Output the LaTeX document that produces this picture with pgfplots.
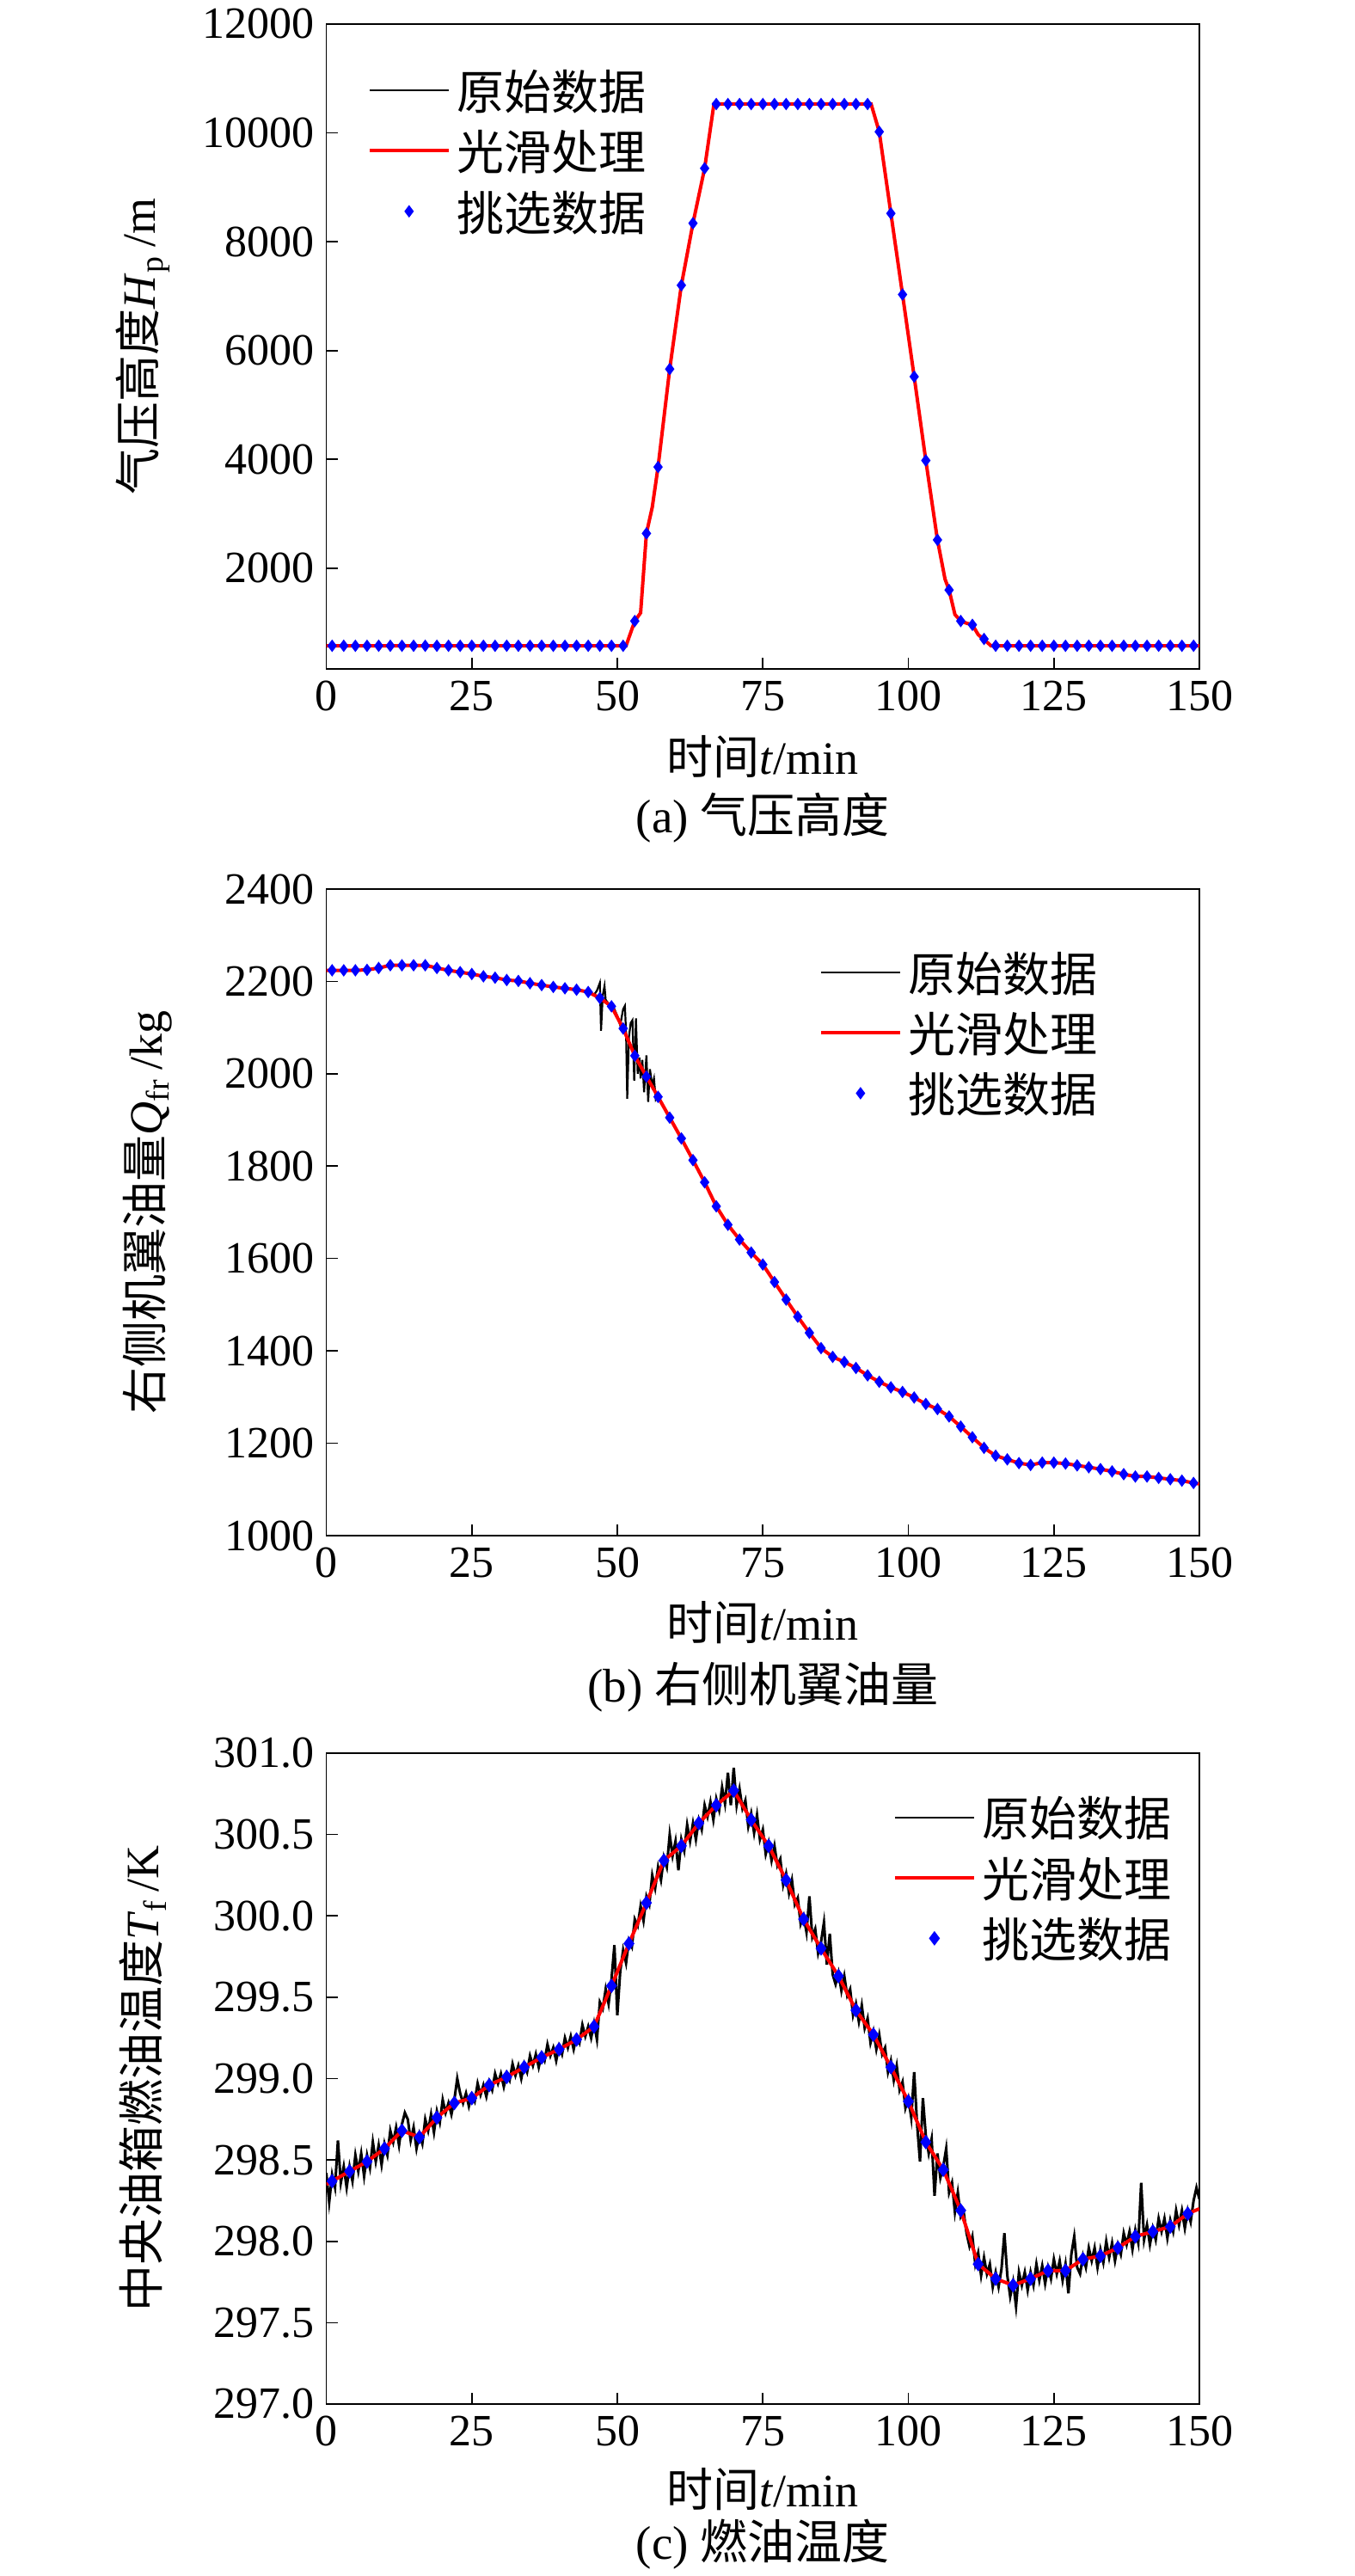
\documentclass[border=0pt]{standalone}
\usepackage{fontspec}
\setmainfont{Liberation Serif}
\newfontfamily\cjk{Noto Sans CJK SC}
\usepackage{pgfplots}
\pgfplotsset{compat=1.18}
\pgfplotsset{
  myaxis/.style={
    scale only axis, width=253.875pt,
    xmin=0, xmax=150, xtick={0,25,...,150},
    tick align=inside, tick pos=left,
    major tick length=3.25pt,
    scaled y ticks=false,
    axis line style={line width=0.45pt},
    every tick/.style={line width=0.4pt, black},
    tick label style={font=\fontsize{13}{13}\selectfont},
    /pgf/number format/assume math mode=true,
    /pgf/number format/1000 sep={},
    label style={font=\fontsize{13.5}{16}\selectfont},
    xlabel={{\cjk 时间}\textit{t}/min},
    xlabel style={at={(axis description cs:0.5,-0.136)}, anchor=center},
    ylabel style={anchor=center},
    legend cell align=left,
    legend style={draw=none, fill=none, inner sep=0pt, row sep=0pt,
      font=\fontsize{13.75}{17.6}\selectfont\cjk,
      /tikz/every odd column/.style={column sep=2pt},
      nodes={inner sep=0pt, text height=10.6pt, text depth=7pt}},
  },
  rawline/.style={black, line width=#1, no markers,
    legend image code/.code={\path (0pt,0pt) (23pt,0pt); \draw[##1, line width=0.5pt] (0pt,0.38em) -- (23pt,0.38em);}},
  rawline/.default=0.55pt,
  smoothline/.style={red, line width=1pt, no markers,
    legend image code/.code={\path (0pt,0pt) (23pt,0pt); \draw[##1] (0pt,0.38em) -- (23pt,0.38em);}},
  picked/.style={only marks, mark=diamond*, mark options={fill=blue, draw=blue}, mark size=#1,
    legend image code/.code={\path (0pt,0pt) (23pt,0pt); \draw[##1] plot coordinates {(11.5pt,0.38em)};}},
  picked/.default=1.5pt,
  caption/.style={after end axis/.code={\node[font=\fontsize{13.75}{16}\selectfont, anchor=center] at (axis description cs:0.5,#1) {\captiontext};}},
}
\begin{document}
\begin{tikzpicture}
\useasboundingbox (0,0) rectangle (393.75pt,749pt);
% ---------------- (a) ----------------
\def\captiontext{(a) {\cjk 气压高度}}
\begin{axis}[myaxis, at={(94.875pt,554.5pt)}, anchor=south west, height=187.5pt,
  ymin=150, ymax=12000, ytick={2000,4000,...,12000},
  ylabel={{\cjk 气压高度}\textit{H}\textsubscript{p}\,/m},
  ylabel style={at={(axis description cs:-0.21,0.5)}},
  legend style={at={(axis description cs:0.0468,0.925)}, anchor=north west},
  caption=-0.231]
\addplot[rawline] coordinates {(0,575)(51.5,575)(53,1030)(54,1180)(55,2640)(56,3120)(57,3860)(59,5660)(61,7200)(63,8340)(65,9350)(66.6,10530)(93.6,10530)(95,10020)(97,8520)(99,7030)(101,5520)(103,3980)(105,2520)(106.3,1800)(107,1600)(108,1150)(109,1030)(110,990)(111,960)(112,780)(113,690)(114.2,575)(150,575)};
\addlegendentry{原始数据}
\addplot[smoothline] coordinates {(0,575)(51.5,575)(53,1030)(54,1180)(55,2640)(56,3120)(57,3860)(59,5660)(61,7200)(63,8340)(65,9350)(66.6,10530)(93.6,10530)(95,10020)(97,8520)(99,7030)(101,5520)(103,3980)(105,2520)(106.3,1800)(107,1600)(108,1150)(109,1030)(110,990)(111,960)(112,780)(113,690)(114.2,575)(150,575)};
\addlegendentry{光滑处理}
\addplot[picked] coordinates {(1,575)(3,575)(5,575)(7,575)(9,575)(11,575)(13,575)(15,575)(17,575)(19,575)(21,575)(23,575)(25,575)(27,575)(29,575)(31,575)(33,575)(35,575)(37,575)(39,575)(41,575)(43,575)(45,575)(47,575)(49,575)(51,575)(53,1030)(55,2640)(57,3860)(59,5660)(61,7200)(63,8340)(65,9350)(67,10530)(69,10530)(71,10530)(73,10530)(75,10530)(77,10530)(79,10530)(81,10530)(83,10530)(85,10530)(87,10530)(89,10530)(91,10530)(93,10530)(95,10020)(97,8520)(99,7030)(101,5520)(103,3980)(105,2520)(107,1600)(109,1030)(111,960)(113,700)(115,575)(117,575)(119,575)(121,575)(123,575)(125,575)(127,575)(129,575)(131,575)(133,575)(135,575)(137,575)(139,575)(141,575)(143,575)(145,575)(147,575)(149,575)};
\addlegendentry{挑选数据}
\end{axis}
% ---------------- (b) ----------------
\def\captiontext{(b) {\cjk 右侧机翼油量}}
\begin{axis}[myaxis, at={(94.875pt,302.5pt)}, anchor=south west, height=188pt,
  ymin=1000, ymax=2400, ytick={1000,1200,...,2400},
  ylabel={{\cjk 右侧机翼油量}\textit{Q}\textsubscript{fr}\,/kg},
  ylabel style={at={(axis description cs:-0.205,0.5)}},
  xlabel style={at={(axis description cs:0.5,-0.134)}},
  legend style={at={(axis description cs:0.5638,0.899)}, anchor=north west},
  caption=-0.235]
\addplot[rawline] coordinates {(0,2224)(1,2224)(3,2224)(5,2224)(7,2225)(9,2229)(11,2235)(13,2235)(15,2235)(17,2235)(19,2229)(21,2224)(23,2220)(25,2216)(27,2211)(29,2208)(31,2203)(33,2201)(35,2196)(37,2192)(39,2188)(41,2185)(43,2182)(45,2177)(45.5,2175)(46,2171)(46.5,2180)(47,2197)(47.2,2093)(47.5,2170)(47.8,2190)(48,2160)(48.5,2152)(49,2146)(49.5,2140)(50,2125)(50.5,2105)(51,2140)(51.3,2147)(51.5,2091)(51.7,1946)(52,2080)(52.3,2110)(52.6,2116)(52.9,1985)(53.2,2120)(53.5,2000)(53.8,2035)(54,1990)(54.3,2030)(54.6,1960)(55,2040)(55.3,1939)(55.6,2010)(56,1975)(56.3,1990)(56.6,1945)(57,1955)(57.5,1940)(58,1928)(59,1905)(61,1860)(63,1813)(65,1765)(67,1713)(69,1673)(71,1641)(73,1613)(75,1587)(77,1549)(79,1511)(81,1474)(83,1439)(85,1406)(87,1387)(89,1376)(91,1363)(93,1347)(95,1333)(97,1321)(99,1311)(101,1299)(103,1285)(105,1274)(107,1258)(109,1236)(111,1213)(113,1190)(115,1173)(117,1165)(119,1157)(121,1153)(123,1158)(125,1158)(127,1156)(129,1152)(131,1148)(133,1144)(135,1139)(137,1133)(139,1128)(141,1128)(143,1125)(145,1122)(147,1119)(149,1114)(150,1112)};
\addlegendentry{原始数据}
\addplot[smoothline] coordinates {(0,2224)(1,2224)(3,2224)(5,2224)(7,2225)(9,2229)(11,2235)(13,2235)(15,2235)(17,2235)(19,2229)(21,2224)(23,2220)(25,2216)(27,2211)(29,2208)(31,2203)(33,2201)(35,2196)(37,2192)(39,2188)(41,2185)(43,2182)(45,2177)(47,2164)(49,2146)(51,2098)(53,2039)(55,1994)(57,1950)(59,1905)(61,1860)(63,1813)(65,1765)(67,1713)(69,1673)(71,1641)(73,1613)(75,1587)(77,1549)(79,1511)(81,1474)(83,1439)(85,1406)(87,1387)(89,1376)(91,1363)(93,1347)(95,1333)(97,1321)(99,1311)(101,1299)(103,1285)(105,1274)(107,1258)(109,1236)(111,1213)(113,1190)(115,1173)(117,1165)(119,1157)(121,1153)(123,1158)(125,1158)(127,1156)(129,1152)(131,1148)(133,1144)(135,1139)(137,1133)(139,1128)(141,1128)(143,1125)(145,1122)(147,1119)(149,1114)(150,1112)};
\addlegendentry{光滑处理}
\addplot[picked] coordinates {(1,2224)(3,2224)(5,2224)(7,2225)(9,2229)(11,2235)(13,2235)(15,2235)(17,2235)(19,2229)(21,2224)(23,2220)(25,2216)(27,2211)(29,2208)(31,2203)(33,2201)(35,2196)(37,2192)(39,2188)(41,2185)(43,2182)(45,2177)(47,2164)(49,2146)(51,2098)(53,2039)(55,1994)(57,1950)(59,1905)(61,1860)(63,1813)(65,1765)(67,1713)(69,1673)(71,1641)(73,1613)(75,1587)(77,1549)(79,1511)(81,1474)(83,1439)(85,1406)(87,1387)(89,1376)(91,1363)(93,1347)(95,1333)(97,1321)(99,1311)(101,1299)(103,1285)(105,1274)(107,1258)(109,1236)(111,1213)(113,1190)(115,1173)(117,1165)(119,1157)(121,1153)(123,1158)(125,1158)(127,1156)(129,1152)(131,1148)(133,1144)(135,1139)(137,1133)(139,1128)(141,1128)(143,1125)(145,1122)(147,1119)(149,1114)};
\addlegendentry{挑选数据}
\end{axis}
% ---------------- (c) ----------------
\def\captiontext{(c) {\cjk 燃油温度}}
\begin{axis}[myaxis, at={(94.875pt,50pt)}, anchor=south west, height=189.25pt,
  ymin=297, ymax=301, ytick={297,297.5,...,301},
  yticklabel style={/pgf/number format/.cd, fixed, fixed zerofill, precision=1},
  ylabel={{\cjk 中央油箱燃油温度}\textit{T}\textsubscript{f}\,/K},
  ylabel style={at={(axis description cs:-0.21,0.5)}},
  xlabel style={at={(axis description cs:0.5,-0.131)}},
  legend style={at={(axis description cs:0.6485,0.929)}, anchor=north west},
  caption=-0.215]
\addplot[rawline=0.75pt] coordinates {(0,298.42)(0.5,298.24)(1,298.41)(1.5,298.33)(2,298.62)(2.5,298.36)(3,298.46)(3.5,298.33)(4,298.46)(4.5,298.37)(5,298.53)(5.5,298.43)(6,298.54)(6.5,298.40)(7,298.53)(7.5,298.45)(8,298.61)(8.5,298.49)(9,298.59)(9.5,298.47)(10,298.60)
(10.5,298.53)(11,298.68)(11.5,298.61)(12,298.70)(12.5,298.59)(13,298.72)(13.5,298.79)(14,298.75)(14.5,298.62)(15,298.70)(15.5,298.57)(16,298.66)(16.5,298.60)(17,298.75)(17.5,298.68)(18,298.78)(18.5,298.67)(19,298.80)(19.5,298.73)(20,298.87)
(20.5,298.79)(21,298.85)(21.5,298.78)(22,298.87)(22.5,299.00)(23,298.91)(23.5,298.85)(24,298.91)(24.5,298.83)(25,298.90)(25.5,298.86)(26,298.97)(26.5,298.90)(27,298.96)(27.5,298.89)(28,298.98)(28.5,298.93)(29,299.03)(29.5,298.97)(30,299.03)
(30.5,298.95)(31,299.03)(31.5,298.99)(32,299.09)(32.5,299.02)(33,299.08)(33.5,299.00)(34,299.09)(34.5,299.04)(35,299.14)(35.5,299.08)(36,299.15)(36.5,299.07)(37,299.15)(37.5,299.11)(38,299.21)(38.5,299.14)(39,299.19)(39.5,299.11)(40,299.20)
(40.5,299.15)(41,299.25)(41.5,299.19)(42,299.26)(42.5,299.18)(43,299.26)(43.5,299.22)(44,299.33)(44.5,299.26)(45,299.32)(45.5,299.25)(46,299.34)(46.5,299.24)(47,299.47)(47.5,299.43)(48,299.55)(48.5,299.46)(49,299.61)(49.5,299.82)(50,299.39)
(50.5,299.66)(51,299.79)(51.5,299.71)(52,299.85)(52.5,299.81)(53,299.98)(53.5,299.94)(54,300.06)(54.5,299.97)(55,300.12)(55.5,300.07)(56,300.25)(56.5,300.17)(57,300.30)(57.5,300.22)(58,300.36)(58.5,300.30)(59,300.50)(59.5,300.37)(60,300.46)
(60.5,300.28)(61,300.47)(61.5,300.40)(62,300.56)(62.5,300.46)(63,300.57)(63.5,300.47)(64,300.59)(64.5,300.53)(65,300.68)(65.5,300.61)(66,300.70)(66.5,300.59)(67,300.72)(67.5,300.65)(68,300.79)(68.5,300.69)(69,300.88)(69.5,300.68)(70,300.91)
(70.5,300.68)(71,300.78)(71.5,300.66)(72,300.71)(72.5,300.55)(73,300.63)(73.5,300.51)(74,300.62)(74.5,300.47)(75,300.53)(75.5,300.38)(76,300.45)(76.5,300.34)(77,300.43)(77.5,300.31)(78,300.35)(78.5,300.19)(79,300.26)(79.5,300.14)(80,300.22)
(80.5,300.07)(81,300.11)(81.5,299.95)(82,300.00)(82.5,299.90)(83,300.12)(83.5,299.87)(84,299.92)(84.5,299.77)(85,299.84)(85.5,299.96)(86,299.70)(86.5,299.89)(87,299.64)(87.5,299.58)(88,299.65)(88.5,299.54)(89,299.63)(89.5,299.51)(90,299.55)
(90.5,299.39)(91,299.46)(91.5,299.35)(92,299.45)(92.5,299.31)(93,299.37)(93.5,299.22)(94,299.29)(94.5,299.18)(95,299.27)(95.5,299.15)(96,299.19)(96.5,299.04)(97,299.11)(97.5,298.99)(98,299.08)(98.5,298.93)(99,298.98)(99.5,298.82)(100,298.88)
(100.5,298.76)(101,299.04)(101.5,298.72)(102,298.49)(102.5,298.88)(103,298.65)(103.5,298.54)(104,298.63)(104.5,298.28)(105,298.54)(105.5,298.39)(106,298.46)(106.5,298.57)(107,298.30)(107.5,298.36)(108,298.18)(108.5,298.30)(109,298.15)(109.5,298.18)(110,298.05)
(110.5,297.97)(111,298.03)(111.5,297.86)(112,297.93)(112.5,297.79)(113,297.90)(113.5,297.80)(114,297.86)(114.5,297.72)(115,297.81)(115.5,297.72)(116,297.83)(116.5,298.05)(117,297.79)(117.5,297.66)(118,297.75)(118.5,297.60)(119,297.81)(119.5,297.73)(120,297.81)
(120.5,297.70)(121,297.81)(121.5,297.73)(122,297.86)(122.5,297.76)(123,297.85)(123.5,297.74)(124,297.84)(124.5,297.77)(125,297.89)(125.5,297.80)(126,297.88)(126.5,297.76)(127,297.86)(127.5,297.68)(128,297.92)(128.5,298.03)(129,297.84)(129.5,297.80)(130,297.91)
(130.5,297.84)(131,297.96)(131.5,297.88)(132,297.96)(132.5,297.84)(133,297.95)(133.5,297.87)(134,298.00)(134.5,297.90)(135,297.99)(135.5,297.88)(136,297.98)(136.5,297.92)(137,298.05)(137.5,297.98)(138,298.06)(138.5,297.95)(139,298.07)(139.5,297.99)(140,298.36)
(140.5,298.01)(141,298.10)(141.5,297.98)(142,298.08)(142.5,298.01)(143,298.14)(143.5,298.06)(144,298.14)(144.5,298.02)(145,298.13)(145.5,298.06)(146,298.19)(146.5,298.10)(147,298.19)(147.5,298.08)(148,298.19)(148.5,298.12)(149,298.25)(149.5,298.33)(150,298.26)};
\addlegendentry{原始数据}
\addplot[smoothline] coordinates {(0,298.35)(1,298.37)(4,298.43)(7,298.49)(10,298.57)(13,298.68)(16,298.64)(19,298.76)(22,298.85)(25,298.88)(28,298.96)(31,299.01)(34,299.07)(37,299.13)(40,299.18)(43,299.24)(46,299.32)(49,299.57)(52,299.83)(55,300.08)(58,300.34)(61,300.43)(64,300.57)(67,300.68)(70,300.77)(73,300.59)(76,300.43)(79,300.22)(82,299.98)(85,299.80)(88,299.63)(91,299.42)(94,299.27)(97,299.07)(100,298.86)(103,298.61)(106,298.44)(109,298.19)(112,297.86)(115,297.77)(118,297.73)(121,297.77)(124,297.82)(127,297.82)(130,297.89)(133,297.91)(136,297.96)(139,298.03)(142,298.06)(145,298.09)(148,298.17)(150,298.20)};
\addlegendentry{光滑处理}
\addplot[picked=1.8pt] coordinates {(1,298.37)(4,298.43)(7,298.49)(10,298.57)(13,298.68)(16,298.64)(19,298.76)(22,298.85)(25,298.88)(28,298.96)(31,299.01)(34,299.07)(37,299.13)(40,299.18)(43,299.24)(46,299.32)(49,299.57)(52,299.83)(55,300.08)(58,300.34)(61,300.43)(64,300.57)(67,300.68)(70,300.77)(73,300.59)(76,300.43)(79,300.22)(82,299.98)(85,299.80)(88,299.63)(91,299.42)(94,299.27)(97,299.07)(100,298.86)(103,298.61)(106,298.44)(109,298.19)(112,297.86)(115,297.77)(118,297.73)(121,297.77)(124,297.82)(127,297.82)(130,297.89)(133,297.91)(136,297.96)(139,298.03)(142,298.06)(145,298.09)(148,298.17)};
\addlegendentry{挑选数据}
\end{axis}
\end{tikzpicture}
\end{document}
